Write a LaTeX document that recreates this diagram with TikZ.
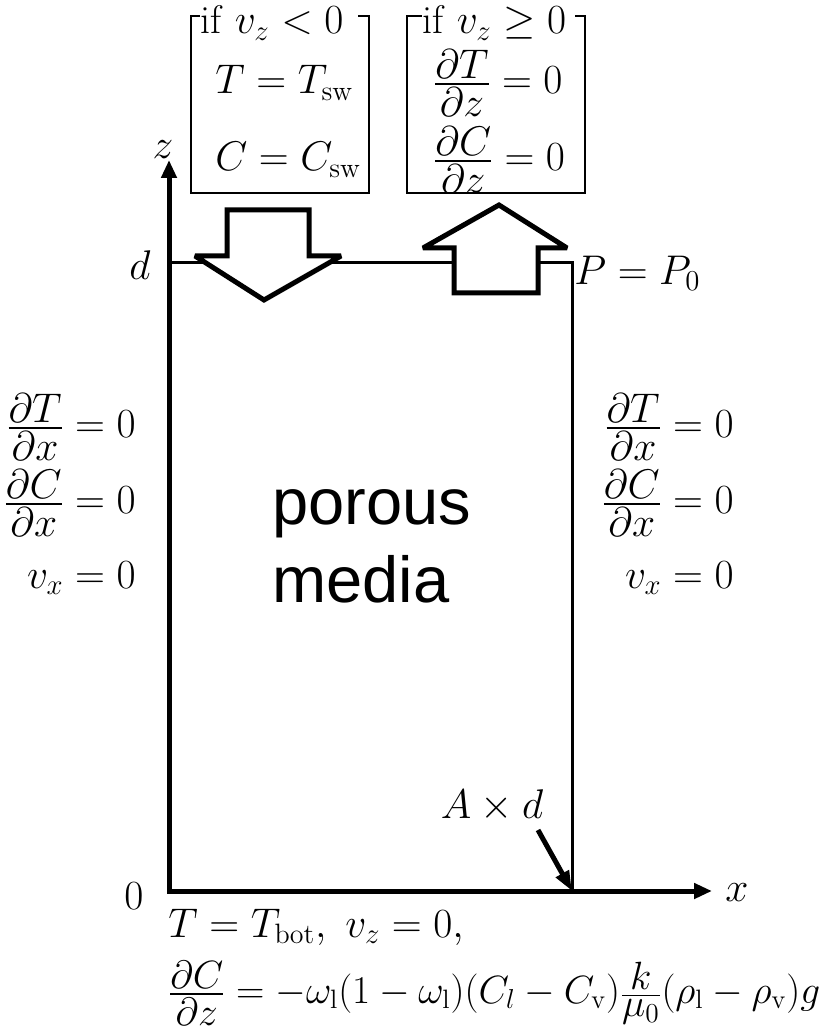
\documentclass[tikz,border=0pt]{standalone}
\usepackage{amsmath}
\usepackage{amssymb}
\usepackage{graphicx}
\usepackage{fontspec}
\newfontfamily\labelsans{Liberation Sans}
\usetikzlibrary{arrows.meta}

% compact fraction: numerator, rule, denominator stacked tightly
\newcommand{\pdfrac}[2]{\mathord{\kern1pt\vcenter{\offinterlineskip
  \halign{\hfil$\displaystyle##$\hfil\cr#1\cr
  \noalign{\kern2.5pt\hrule height0.9pt\kern1.5pt}#2\cr}}\kern1pt}}

\begin{document}
\begin{tikzpicture}[x=0.5pt,y=-0.5pt,
  every node/.style={font=\fontsize{20}{24}\selectfont,inner sep=0pt},
  axis/.style={line width=2.5pt,{Triangle[length=9pt,width=7.5pt]}-{Triangle[length=9pt,width=7.5pt]}},
  wall/.style={line width=1.5pt},
  boxline/.style={line width=1.2pt},
  blockarrow/.style={line width=2.5pt,fill=white,miter limit=2},
  pointer/.style={line width=2.5pt,-{Triangle[length=10pt,width=7pt]}},
  boxtitle/.style={anchor=base west,fill=white,align=left}]
  \useasboundingbox (0,0) rectangle (819,1036);

  % corners of the domain
  \coordinate (O) at (169,891);
  \coordinate (ztip) at (169,160);
  \coordinate (xtip) at (712,891);
  \coordinate (topl) at (169,263);
  \coordinate (topr) at (572,263);
  \coordinate (botr) at (572,891);

  \draw[wall] (topl) -- (topr) -- (botr);
  \draw[axis] (ztip) -- (O) -- (xtip);
  \node (zlab) at (163,150) {$z$};
  \node (xlab) at (737,893) {$x$};
  \node (dlab) at (140,265) {$d$};
  \node (olab) at (134,896) {$0$};
  \node[anchor=west] (plab) at (574,273) {$P=P_0$};

  % inflow / outflow boxes
  \draw[boxline] (191,16) rectangle (369,193);
  \node[boxtitle,text width=79pt] (ifneg) at (200,34) {if $v_z<0$};
  \node[anchor=west] (Tsw) at (215,83) {$T=T_{\mathrm{sw}}$};
  \node[anchor=west] (Csw) at (215,160) {$C=C_{\mathrm{sw}}$};

  \draw[boxline] (407,16) rectangle (585,193);
  \node[boxtitle,text width=76.5pt] (ifpos) at (422,34) {if $v_z\geq0$};
  \node[anchor=west] (dTdz) at (433,83) {$\pdfrac{\partial T}{\partial z}=0$};
  \node[anchor=west] (dCdz) at (433,160) {$\pdfrac{\partial C}{\partial z}=0$};

  % block arrows across the top
  \draw[blockarrow] (227,210) -- (309,210) -- (309,256) -- (341,256) -- (264,300)
    -- (195,256) -- (227,256) -- cycle;
  \draw[blockarrow] (454,293) -- (538,293) -- (538,248) -- (567,248) -- (499,205)
    -- (423,248) -- (454,248) -- cycle;

  % side walls
  \node[anchor=east] (lTx) at (136,427) {$\pdfrac{\partial T}{\partial x}=0$};
  \node[anchor=east] (lCx) at (136,503) {$\pdfrac{\partial C}{\partial x}=0$};
  \node[anchor=east] (lvx) at (136,578) {$v_x=0$};
  \node[anchor=east] (rTx) at (734,427) {$\pdfrac{\partial T}{\partial x}=0$};
  \node[anchor=east] (rCx) at (734,503) {$\pdfrac{\partial C}{\partial x}=0$};
  \node[anchor=east] (rvx) at (734,578) {$v_x=0$};

  \node[anchor=north west,align=left,font=\labelsans\fontsize{32.5}{39}\selectfont]
    (media) at (272,489) {porous\\media};

  % aspect ratio marker
  \node (Ad) at (492,806) {$A\times d$};
  \coordinate (Adfoot) at (538,830);
  \draw[pointer] (Adfoot) -- (botr);

  % bottom boundary
  \node[anchor=base west] (bot1) at (168,937) {$T=T_{\mathrm{bot}},\ v_z=0,$};
  \node[anchor=base west] (bot2) at (168,1003)
    {\scalebox{0.95}{$\pdfrac{\partial C}{\partial z}=-\omega_{\mathrm{l}}(1-\omega_{\mathrm{l}})(C_l-C_{\mathrm{v}})\pdfrac{k}{\mu_0}(\rho_{\mathrm{l}}-\rho_{\mathrm{v}})g$}};
\end{tikzpicture}
\end{document}
